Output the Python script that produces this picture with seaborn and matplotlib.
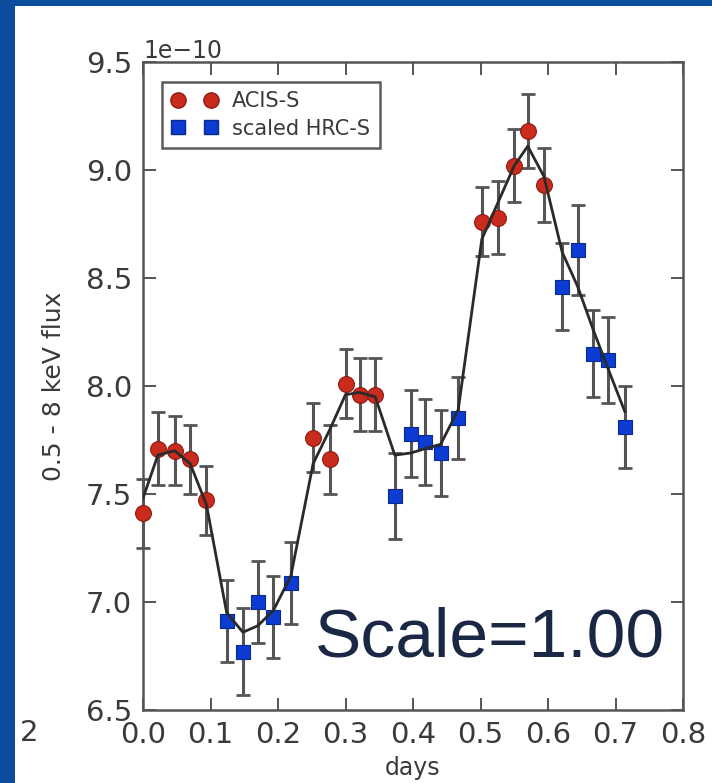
import numpy as np
import pandas as pd
import matplotlib
matplotlib.use("Agg")
import matplotlib.pyplot as plt
from matplotlib.lines import Line2D
from matplotlib.patches import Rectangle
import seaborn as sns

# ---- data (flux in units of 1e-10) ----
acis_days = [0.000, 0.022, 0.047, 0.070, 0.094,
             0.252, 0.277, 0.300, 0.321, 0.344,
             0.502, 0.526, 0.550, 0.570, 0.594]
acis_flux = [7.41, 7.71, 7.70, 7.66, 7.47,
             7.76, 7.66, 8.01, 7.96, 7.96,
             8.76, 8.78, 9.02, 9.18, 8.93]
acis_err = [0.16, 0.17, 0.16, 0.16, 0.16,
            0.16, 0.16, 0.16, 0.17, 0.17,
            0.16, 0.17, 0.17, 0.17, 0.17]

hrc_days = [0.124, 0.148, 0.170, 0.193, 0.219,
            0.373, 0.397, 0.418, 0.441, 0.467,
            0.621, 0.644, 0.667, 0.689, 0.714]
hrc_flux = [6.91, 6.77, 7.00, 6.93, 7.09,
            7.49, 7.78, 7.74, 7.69, 7.85,
            8.46, 8.63, 8.15, 8.12, 7.81]
hrc_err = [0.19, 0.20, 0.19, 0.19, 0.19,
           0.20, 0.20, 0.20, 0.20, 0.19,
           0.20, 0.21, 0.20, 0.20, 0.19]

model_days = [0.000, 0.022, 0.047, 0.070, 0.094, 0.124, 0.148, 0.170, 0.193, 0.219,
              0.252, 0.277, 0.300, 0.321, 0.344, 0.373, 0.397, 0.418, 0.441, 0.467,
              0.502, 0.526, 0.550, 0.570, 0.594, 0.621, 0.644, 0.667, 0.689, 0.714]
model_flux = [7.48, 7.68, 7.70, 7.64, 7.45, 6.95, 6.86, 6.89, 6.96, 7.12,
              7.64, 7.80, 7.96, 7.97, 7.95, 7.68, 7.69, 7.71, 7.73, 7.89,
              8.68, 8.85, 9.02, 9.11, 8.97, 8.62, 8.46, 8.26, 8.08, 7.88]

series_labels = ["ACIS-S", "scaled HRC-S"]
unit = 1e-10
x_ticks = [0.0, 0.1, 0.2, 0.3, 0.4, 0.5, 0.6, 0.7, 0.8]
y_ticks = [6.5, 7.0, 7.5, 8.0, 8.5, 9.0, 9.5]
annotation = "Scale=1.00"

# ---- styling ----
sns.set_style("ticks")
plt.rcParams["font.family"] = ["DejaVu Sans"]

RED = "#c92b1c"
RED_EDGE = "#8e1a10"
BLUE = "#0c3cd2"
BLUE_EDGE = "#0a2a90"
GREY = "#555555"
TXT = "#3a3a3a"

fig = plt.figure(figsize=(7.12, 7.83), dpi=100)
fig.patch.set_facecolor("white")
ax = fig.add_axes([143/712, 1-710/783, (683-143)/712, (710-62)/783])

df_a = pd.DataFrame({"days": acis_days, "flux": np.array(acis_flux)*unit, "err": np.array(acis_err)*unit})
df_h = pd.DataFrame({"days": hrc_days, "flux": np.array(hrc_flux)*unit, "err": np.array(hrc_err)*unit})
df_m = pd.DataFrame({"days": model_days, "flux": np.array(model_flux)*unit})

# error bars
for d in (df_a, df_h):
    ax.errorbar(d["days"], d["flux"], yerr=d["err"], fmt="none", ecolor=GREY,
                elinewidth=2.2, capsize=5, capthick=2.0, zorder=2, clip_on=False)

sns.scatterplot(data=df_a, x="days", y="flux", marker="o", s=130, color=RED,
                edgecolor=RED_EDGE, linewidth=0.8, ax=ax, zorder=3, clip_on=False, legend=False)
sns.scatterplot(data=df_h, x="days", y="flux", marker="s", s=110, color=BLUE,
                edgecolor=BLUE_EDGE, linewidth=0.8, ax=ax, zorder=3, legend=False)
sns.lineplot(data=df_m, x="days", y="flux", color="#2a2a2a", linewidth=2.0, ax=ax,
             zorder=4, estimator=None, sort=False)

ax.set_xlim(0.0, 0.8)
ax.set_ylim(6.5*unit, 9.5*unit)
ax.set_xticks(x_ticks)
ax.set_yticks(np.array(y_ticks)*unit)
ax.set_xticklabels([f"{t:.1f}" for t in x_ticks])

ax.tick_params(direction="in", length=9, width=1.4, color="#555555",
               top=True, right=True, labelsize=21, labelcolor=TXT, pad=8)
for sp in ax.spines.values():
    sp.set_color("#555555")
    sp.set_linewidth(1.8)
ax.yaxis.get_offset_text().set_fontsize(17)
ax.yaxis.get_offset_text().set_color(TXT)

ax.set_xlabel("days", fontsize=17, color=TXT, labelpad=5)
ax.set_ylabel("0.5 - 8 keV flux", fontsize=18, color=TXT, labelpad=14)

handles = [
    Line2D([], [], linestyle="none", marker="o", markersize=11, color=RED, markeredgecolor=RED_EDGE),
    Line2D([], [], linestyle="none", marker="s", markersize=10, color=BLUE, markeredgecolor=BLUE_EDGE),
]
leg = ax.legend(handles, series_labels, numpoints=2, loc="upper left",
                bbox_to_anchor=(0.036, 0.969), fontsize=15, frameon=True,
                fancybox=False, edgecolor="#333333", borderpad=0.45,
                handlelength=2.2, handletextpad=0.7, labelspacing=0.35, borderaxespad=0)
leg.get_frame().set_linewidth(1.8)
for t in leg.get_texts():
    t.set_color(TXT)

ax.text(0.318, 0.082, annotation, transform=ax.transAxes, fontsize=50,
        family=["Liberation Sans", "DejaVu Sans"], color="#1b2845", ha="left", va="baseline")

# slide frame and stray label from neighbouring panel
fig.patches.append(Rectangle((0, 1-6/783), 1, 6/783, transform=fig.transFigure,
                             facecolor="#0b4d9c", edgecolor="none", zorder=10))
fig.patches.append(Rectangle((0, 0), 15/712, 1, transform=fig.transFigure,
                             facecolor="#0b4d9c", edgecolor="none", zorder=10))
fig.text(20/712, 1-733/783, "2", fontsize=21, color=TXT, ha="left", va="center")

fig.savefig("out.png", dpi=100)
